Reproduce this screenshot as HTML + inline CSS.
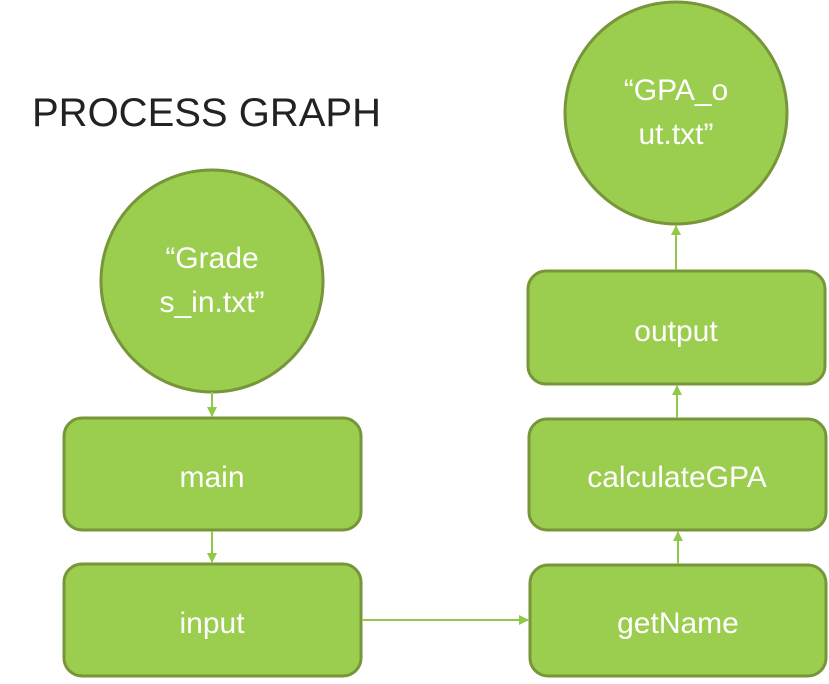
<!DOCTYPE html>
<html><head><style>
body{margin:0;background:#fff;width:829px;height:679px;overflow:hidden}
svg text{font-family:"Liberation Sans",sans-serif}
</style></head><body>
<svg width="829" height="679" viewBox="0 0 829 679">
<defs><marker id="a" markerWidth="10" markerHeight="10" refX="9" refY="5" orient="auto" markerUnits="userSpaceOnUse"><path d="M0,0 L10,5 L0,10 z" fill="#92c84a"/></marker></defs>
<text x="32" y="126" font-size="40" fill="#222">PROCESS GRAPH</text>
<g fill="#9bcd4e" stroke="#77963a" stroke-width="3">
<circle cx="212" cy="281" r="111"/>
<circle cx="676" cy="113" r="111"/>
<rect x="64" y="418" width="297" height="112" rx="18"/>
<rect x="64" y="564" width="297" height="112" rx="18"/>
<rect x="528" y="271" width="297" height="113" rx="18"/>
<rect x="529" y="419" width="297" height="111" rx="18"/>
<rect x="530" y="565" width="296" height="111" rx="18"/>
</g>
<g stroke="#92c84a" stroke-width="2" fill="none">
<line x1="212" y1="392" x2="212" y2="416" marker-end="url(#a)"/>
<line x1="212" y1="531" x2="212" y2="562" marker-end="url(#a)"/>
<line x1="362" y1="620" x2="528" y2="620" marker-end="url(#a)"/>
<line x1="678" y1="564" x2="678" y2="532" marker-end="url(#a)"/>
<line x1="677" y1="418" x2="677" y2="386" marker-end="url(#a)"/>
<line x1="676" y1="270" x2="676" y2="226" marker-end="url(#a)"/>
</g>
<g fill="#fff" font-size="30" text-anchor="middle">
<text x="212" y="268">“Grade</text>
<text x="212" y="312">s_in.txt”</text>
<text x="676" y="100">“GPA_o</text>
<text x="676" y="144">ut.txt”</text>
<text x="212" y="487">main</text>
<text x="212" y="633">input</text>
<text x="676" y="341">output</text>
<text x="677" y="487">calculateGPA</text>
<text x="678" y="633">getName</text>
</g>
</svg>
</body></html>
